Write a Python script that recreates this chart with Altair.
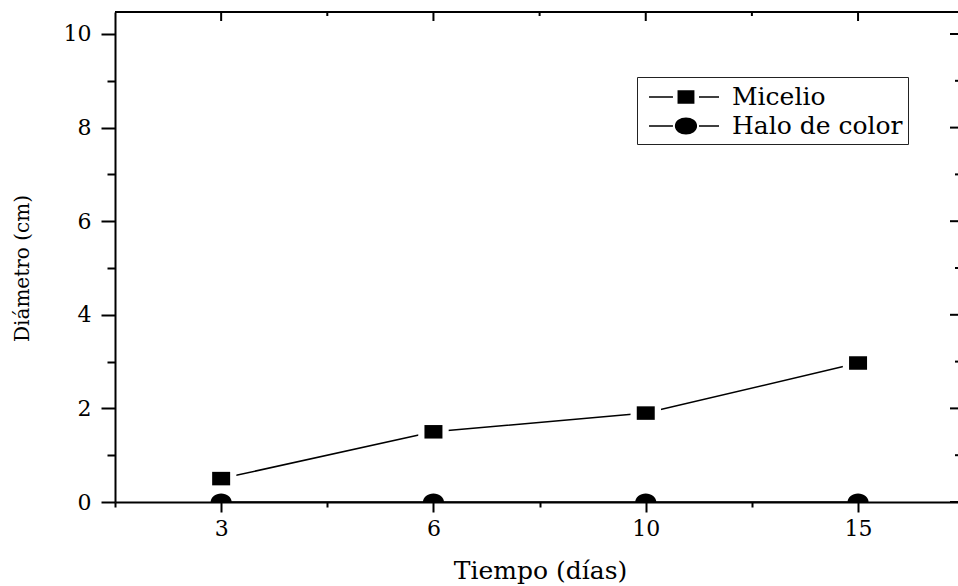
import altair as alt
import pandas as pd

# ---- data ----
dias = [3, 6, 10, 15]
micelio = [0.5, 1.5, 1.9, 2.97]
halo_color = [0, 0, 0, 0]
series = ["Micelio", "Halo de color"]
x_tick_values = [0.5, 1, 1.5, 2, 2.5, 3, 3.5, 4]
y_tick_values = list(range(0, 11))

FONT = "DejaVu Serif"
W, H = 843, 490
STEP = 212.3
x_dom = [0.5, 0.5 + W / STEP]
y_dom = [0, 10.47]

rows = []
for i, d in enumerate(dias):
    rows.append({"dia": d, "idx": i + 1, "valor": micelio[i], "serie": series[0]})
for i, d in enumerate(dias):
    rows.append({"dia": d, "idx": i + 1, "valor": halo_color[i], "serie": series[1]})
df = pd.DataFrame(rows)


def ellipse(cx, rx, ry):
    k = 0.5523
    f = lambda v: f"{v:.3f}"
    return (f"M{f(cx-rx)},0"
            f"C{f(cx-rx)},{f(-k*ry)},{f(cx-k*rx)},{f(-ry)},{f(cx)},{f(-ry)}"
            f"C{f(cx+k*rx)},{f(-ry)},{f(cx+rx)},{f(-k*ry)},{f(cx+rx)},0"
            f"C{f(cx+rx)},{f(k*ry)},{f(cx+k*rx)},{f(ry)},{f(cx)},{f(ry)}"
            f"C{f(cx-k*rx)},{f(ry)},{f(cx-rx)},{f(k*ry)},{f(cx-rx)},0Z")


def rect(cx, hx, hy):
    return (f"M{cx-hx:.3f},{-hy:.3f}L{cx+hx:.3f},{-hy:.3f}"
            f"L{cx+hx:.3f},{hy:.3f}L{cx-hx:.3f},{hy:.3f}Z")


# marker shapes (size 441 -> 10.5 px per unit)
MSIZE = 441
sq_path = rect(0, 0.857, 0.643)
el_path = ellipse(0, 1.0, 0.81)
sq_halo_path = rect(0, 1.45, 1.15)

# legend symbols (size 784 -> 14 px per unit), line stubs + marker
LSIZE = 784
c = 2.07
stub = f"M-0.57,0L{c-0.93:.3f},0M{c+0.93:.3f},0L4.43,0"
leg_sq = stub + rect(c, 0.55, 0.43)
leg_el = stub + ellipse(c, 0.74, 0.56)

days_js = "[" + ",".join(f"'{d}'" for d in dias) + "]"

x_enc = alt.X(
    "idx:Q",
    scale=alt.Scale(domain=x_dom, nice=False, zero=False),
    axis=alt.Axis(
        values=x_tick_values,
        labelExpr=f"datum.value % 1 === 0 ? {days_js}[datum.value - 1] : ''",
        tickSize={"condition": {"test": "datum.value % 1 === 0", "value": 10}, "value": 5},
        tickWidth=2, tickColor="black",
        domainWidth=2, domainColor="black",
        labelFont=FONT, labelFontSize=22, labelColor="black", labelPadding=6,
        labelFlush=False, labelOverlap=False, grid=False,
        title="Tiempo (días)", titleFont=FONT, titleFontSize=25,
        titleFontWeight="normal", titleColor="black",
        titleX=425, titleY=76, titleAlign="center", titleBaseline="alphabetic",
    ),
)

y_enc = alt.Y(
    "valor:Q",
    scale=alt.Scale(domain=y_dom, nice=False, zero=False),
    axis=alt.Axis(
        values=y_tick_values,
        labelExpr="datum.value % 2 === 0 ? datum.label : ''",
        tickSize={"condition": {"test": "datum.value % 2 === 0", "value": 14}, "value": 8},
        tickWidth=2, tickColor="black",
        domainWidth=2, domainColor="black",
        labelFont=FONT, labelFontSize=22, labelColor="black", labelPadding=10,
        labelOverlap=False, grid=False,
        title="Diámetro (cm)", titleFont=FONT, titleFontSize=20,
        titleFontWeight="normal", titleColor="black",
        titleX=-93, titleY=256, titleAngle=270, titleAlign="center",
        titleBaseline="middle",
    ),
)

base = alt.Chart(df)

lines = base.mark_line(color="black", strokeWidth=1.5, clip=True).encode(
    x=x_enc, y=y_enc, detail="serie:N", order="idx:Q"
)

white_halo = base.transform_filter(alt.datum.serie == series[0]).mark_point(
    filled=True, color="white", opacity=1, size=MSIZE, shape=sq_halo_path, clip=True
).encode(x=x_enc, y=y_enc)

markers = base.mark_point(
    filled=True, color="black", opacity=1, size=MSIZE, clip=True
).encode(
    x=x_enc, y=y_enc,
    shape=alt.Shape("serie:N", scale=alt.Scale(domain=series, range=[sq_path, el_path]),
                    legend=None),
)

legend_layer = base.transform_filter("false").mark_point(
    filled=False, fill="black", stroke="black", color="black",
    strokeWidth=1.5, opacity=1, fillOpacity=1
).encode(
    x=x_enc, y=y_enc,
    shape=alt.Shape(
        "serie:N",
        scale=alt.Scale(domain=series, range=[leg_sq, leg_el]),
        legend=alt.Legend(
            orient="none", legendX=522, legendY=65, title=None,
            padding=5, strokeColor="#222222", fillColor="white",
            labelFont=FONT, labelFontSize=25, labelColor="black",
            labelOffset=60, symbolSize=LSIZE, symbolStrokeWidth=1.5,
            symbolOpacity=1, rowPadding=1, labelLimit=400,
        ),
    ),
)

# top frame and inward ticks on top and right sides
frame_df = pd.DataFrame({"k": [0]})
top_line = alt.Chart(frame_df).mark_rule(color="black", strokeWidth=2).encode(
    x=alt.value(0), x2=alt.value(W), y=alt.value(0)
)

top_major = pd.DataFrame({"idx": [v for v in x_tick_values if v % 1 == 0]})
top_minor = pd.DataFrame({"idx": [v for v in x_tick_values if v % 1 != 0 and v > x_dom[0]]})
right_major = pd.DataFrame({"valor": [v for v in y_tick_values if v % 2 == 0]})
right_minor = pd.DataFrame({"valor": [v for v in y_tick_values if v % 2 != 0]})

tmaj = alt.Chart(top_major).mark_rule(color="black", strokeWidth=2).encode(
    x=x_enc, y=alt.value(0), y2=alt.value(9))
tmin = alt.Chart(top_minor).mark_rule(color="black", strokeWidth=2).encode(
    x=x_enc, y=alt.value(0), y2=alt.value(4))
rmaj = alt.Chart(right_major).mark_rule(color="black", strokeWidth=2).encode(
    y=y_enc, x=alt.value(W - 8), x2=alt.value(W))
rmin = alt.Chart(right_minor).mark_rule(color="black", strokeWidth=2).encode(
    y=y_enc, x=alt.value(W - 3), x2=alt.value(W))

chart = alt.layer(
    lines, white_halo, markers, legend_layer, top_line, tmaj, tmin, rmaj, rmin
).resolve_scale(shape="independent").properties(
    width=W, height=H,
    padding={"left": 115, "top": 12, "right": 0, "bottom": 84},
    autosize=alt.AutoSizeParams(type="none"),
    background="white",
).configure_view(stroke=None)

chart.save("out.html", embed_options={"renderer": "svg", "actions": False})
